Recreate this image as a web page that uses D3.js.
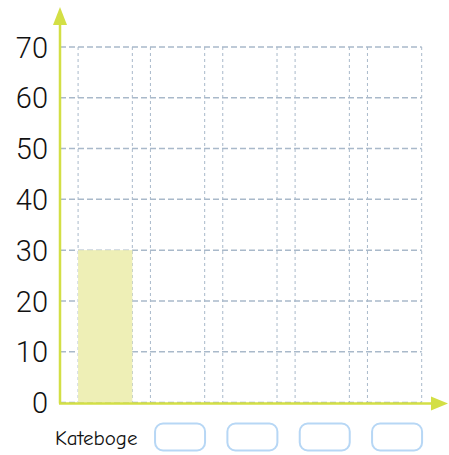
<!DOCTYPE html>
<html>
<head>
<meta charset="utf-8">
<script src="https://cdn.jsdelivr.net/npm/d3@7"></script>
<style>
  html, body { margin: 0; padding: 0; background: #ffffff; }
  svg { display: block; }
</style>
</head>
<body>
<svg id="chart" width="449" height="455"></svg>
<script>
// Category slots along the x axis (labels left blank to be filled in)
const categories = ["c1", "c2", "c3", "c4", "c5"];
// Bar values per category; only the first one is drawn
const values = [30, null, null, null, null];
// Y axis tick labels
const yTicks = [0, 10, 20, 30, 40, 50, 60, 70];
const rowLabel = "Kateboge";

const svg = d3.select("#chart");
const axisColor = "#d3df45";
const gridColor = "#a9b9ca";

const x0 = 60, xEnd = 421.7, y0 = 402.5, yTop = 47;

const y = d3.scaleLinear().domain([0, 70]).range([y0, yTop]);
const x = d3.scaleBand()
  .domain(categories)
  .range([x0, xEnd])
  .paddingInner(0.25)
  .paddingOuter(0.125)
  .align(1);

// Horizontal dashed grid
svg.append("g").selectAll("line").data(yTicks).join("line")
  .attr("x1", x0).attr("x2", xEnd)
  .attr("y1", d => y(d)).attr("y2", d => y(d))
  .attr("stroke", gridColor).attr("stroke-width", 1.5)
  .attr("stroke-dasharray", "6,3");

// Vertical dashed grid at both edges of every band
const edges = [];
categories.forEach(c => { edges.push(x(c)); edges.push(x(c) + x.bandwidth()); });
svg.append("g").selectAll("line").data(edges).join("line")
  .attr("x1", d => d).attr("x2", d => d)
  .attr("y1", yTop).attr("y2", y0)
  .attr("stroke", gridColor).attr("stroke-width", 1)
  .attr("stroke-dasharray", "3,3");

// Bars
svg.append("g").selectAll("rect")
  .data(categories.map((c, i) => ({ c, v: values[i] })).filter(d => d.v != null))
  .join("rect")
  .attr("x", d => x(d.c))
  .attr("width", x.bandwidth())
  .attr("y", d => y(d.v))
  .attr("height", d => y(0) - y(d.v))
  .attr("fill", "#eeefb6");

// Y tick labels
svg.append("g").selectAll("text").data(yTicks).join("text")
  .attr("x", 48)
  .attr("y", d => y(d) + 3)
  .attr("text-anchor", "end")
  .attr("dominant-baseline", "middle")
  .attr("font-family", "Roboto, Lato, sans-serif")
  .attr("font-weight", 300)
  .attr("font-size", 29)
  .attr("fill", "#111")
  .text(d => d);

// Axes with arrow heads
svg.append("line")
  .attr("x1", x0).attr("x2", x0)
  .attr("y1", y0 + 1).attr("y2", 22)
  .attr("stroke", axisColor).attr("stroke-width", 2.5);
svg.append("path")
  .attr("d", `M${x0},7 L${x0 - 7},25 L${x0 + 7},25 Z`)
  .attr("fill", axisColor);

svg.append("line")
  .attr("x1", x0 - 1).attr("x2", 435)
  .attr("y1", y0 + 1).attr("y2", y0 + 1)
  .attr("stroke", axisColor).attr("stroke-width", 2.5);
svg.append("path")
  .attr("d", `M448,${y0 + 1} L431,${y0 - 6} L431,${y0 + 8} Z`)
  .attr("fill", axisColor);

// Row label and empty label boxes under the remaining categories
svg.append("text")
  .attr("x", 55).attr("y", 445)
  .attr("font-family", "'Comic Sans MS', 'Comic Neue', Lato, sans-serif")
  .attr("font-size", 21)
  .attr("fill", "#111")
  .text(rowLabel);

svg.append("g").selectAll("rect")
  .data(categories.slice(1))
  .join("rect")
  .attr("x", d => x(d) + x.bandwidth() / 2 - 22.5)
  .attr("y", 423.5)
  .attr("width", 50)
  .attr("height", 27)
  .attr("rx", 8)
  .attr("fill", "#fff")
  .attr("stroke", "#b7d7f5")
  .attr("stroke-width", 2);
</script>
</body>
</html>
